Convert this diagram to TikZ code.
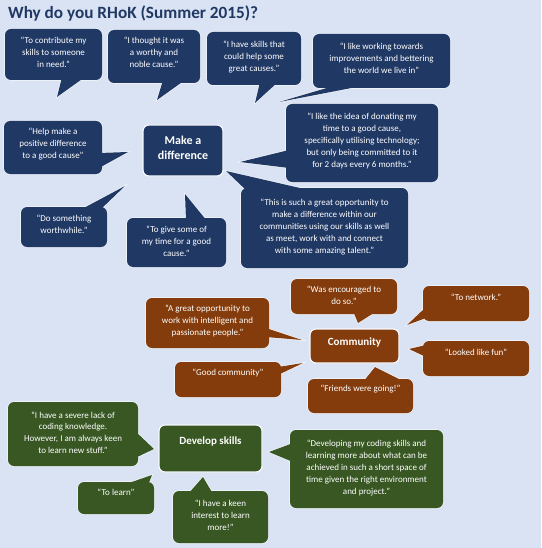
\documentclass[tikz,border=0pt]{standalone}
\usepackage{fontspec}
\setmainfont{Carlito}
\usetikzlibrary{calc}
\definecolor{bg}{HTML}{DAE3F3}
\definecolor{navy}{HTML}{203864}
\definecolor{rust}{HTML}{843C0C}
\definecolor{moss}{HTML}{385723}
\definecolor{edge}{HTML}{F6F8FC}
\begin{document}
\begin{tikzpicture}[x=1pt,y=-1pt,
  bub/.style={rectangle, rounded corners=6pt, draw=edge, line width=1.2pt, inner sep=0pt, outer sep=0pt, anchor=north west},
  tailw/.style={draw=edge, line width=1.2pt, line join=miter},
  txt/.style={text=white, align=center, inner sep=0pt, font=\fontsize{9}{11.8}\selectfont},
  hub/.style={text=white, align=center, inner sep=0pt, font=\fontsize{12}{15.5}\selectfont\bfseries},
  hubs/.style={text=white, align=center, inner sep=0pt, font=\fontsize{11}{13}\selectfont\bfseries}]
\useasboundingbox (0,0) rectangle (541,548);
\fill[bg] (0,0) rectangle (541,548);
\node[anchor=base west, inner sep=0pt, text=navy, font=\fontsize{17.2}{19}\selectfont\bfseries] (title) at (8,19) {Why do you RHoK (Summer 2015)?};

% ---------- boxes ----------
% Make a difference (navy)
\node[bub, fill=navy, minimum width=97pt, minimum height=51pt] (b1) at (5,29) {};
\node[bub, fill=navy, minimum width=92pt, minimum height=53pt] (b2) at (108,30) {};
\node[bub, fill=navy, minimum width=94pt, minimum height=53pt] (b3) at (207,32) {};
\node[bub, fill=navy, minimum width=137pt, minimum height=54pt] (b4) at (313,34) {};
\node[bub, fill=navy, minimum width=152pt, minimum height=78pt] (b5) at (286,104) {};
\node[bub, fill=navy, minimum width=167pt, minimum height=80pt] (b6) at (241,188) {};
\node[bub, fill=navy, minimum width=98pt, minimum height=53pt] (b7) at (4,121) {};
\node[bub, fill=navy, minimum width=86pt, minimum height=40pt] (b8) at (21,207) {};
\node[bub, fill=navy, minimum width=99pt, minimum height=49pt] (b9) at (127,218) {};
\node[bub, fill=navy, minimum width=80pt, minimum height=51pt] (md) at (143,125) {};
% Community (rust)
\node[bub, fill=rust, minimum width=89pt, minimum height=34pt] (cm) at (310,329) {};
\node[bub, fill=rust, minimum width=106pt, minimum height=35pt] (ca) at (291,279) {};
\node[bub, fill=rust, minimum width=106pt, minimum height=35pt] (cb) at (423,286) {};
\node[bub, fill=rust, minimum width=123pt, minimum height=50pt] (cc) at (146,298) {};
\node[bub, fill=rust, minimum width=106pt, minimum height=35pt] (cd) at (423,341) {};
\node[bub, fill=rust, minimum width=106pt, minimum height=35pt] (ce) at (175,362) {};
\node[bub, fill=rust, minimum width=105pt, minimum height=34pt] (cf) at (308,379) {};
% Develop skills (moss)
\node[bub, fill=moss, minimum width=103pt, minimum height=47pt] (ds) at (159,425) {};
\node[bub, fill=moss, minimum width=130pt, minimum height=64pt] (da) at (8,402) {};
\node[bub, fill=moss, minimum width=153pt, minimum height=78pt] (db) at (290,430) {};
\node[bub, fill=moss, minimum width=76pt, minimum height=32pt] (dc) at (78,482) {};
\node[bub, fill=moss, minimum width=95pt, minimum height=52pt] (dd) at (173,491) {};

% ---------- tail tips and bases ----------
\coordinate (t-b1) at (57,97);   \coordinate (l-b1) at ($(b1.north west)+(57,48)$);  \coordinate (r-b1) at ($(b1.north west)+(80,48)$);
\coordinate (t-b2) at (157,100); \coordinate (l-b2) at ($(b2.north west)+(55,50)$);  \coordinate (r-b2) at ($(b2.north west)+(77,50)$);
\coordinate (t-b3) at (255,103); \coordinate (l-b3) at ($(b3.north west)+(53,50)$);  \coordinate (r-b3) at ($(b3.north west)+(71,50)$);
\coordinate (t-b4) at (279,102); \coordinate (l-b4) at ($(b4.north west)+(24,51)$);  \coordinate (r-b4) at ($(b4.north west)+(54,51)$);
\coordinate (t-b5) at (240,162); \coordinate (l-b5) at ($(b5.north west)+(3,46)$);   \coordinate (r-b5) at ($(b5.north west)+(3,64)$);
\coordinate (t-b6) at (226,171); \coordinate (l-b6) at ($(b6.north west)+(6,3)$);    \coordinate (r-b6) at ($(b6.north west)+(72,3)$);
\coordinate (t-b7) at (128,152); \coordinate (l-b7) at ($(b7.north west)+(95,32)$);  \coordinate (r-b7) at ($(b7.north west)+(95,47)$);
\coordinate (t-b8) at (125,186); \coordinate (l-b8) at ($(b8.north west)+(59,3)$);   \coordinate (r-b8) at ($(b8.north west)+(79,3)$);
\coordinate (t-b9) at (185,194); \coordinate (l-b9) at ($(b9.north west)+(59,3)$);   \coordinate (r-b9) at ($(b9.north west)+(80,3)$);
\coordinate (t-ca) at (358,323); \coordinate (l-ca) at ($(ca.north west)+(62,32)$);  \coordinate (r-ca) at ($(ca.north west)+(86,32)$);
\coordinate (t-cb) at (407,325); \coordinate (l-cb) at ($(cb.north west)+(3,21)$);   \coordinate (r-cb) at ($(cb.north west)+(3,32)$);
\coordinate (t-cc) at (302,340); \coordinate (l-cc) at ($(cc.north west)+(120,30)$); \coordinate (r-cc) at ($(cc.north west)+(120,39)$);
\coordinate (t-cd) at (409,349); \coordinate (l-cd) at ($(cd.north west)+(3,4)$);    \coordinate (r-cd) at ($(cd.north west)+(3,16)$);
\coordinate (t-ce) at (303,363); \coordinate (l-ce) at ($(ce.north west)+(103,5)$);  \coordinate (r-ce) at ($(ce.north west)+(103,13)$);
\coordinate (t-cf) at (375,367); \coordinate (l-cf) at ($(cf.north west)+(55,3)$);   \coordinate (r-cf) at ($(cf.north west)+(97,3)$);
\coordinate (t-da) at (154,449); \coordinate (l-da) at ($(da.north west)+(127,29)$); \coordinate (r-da) at ($(da.north west)+(127,56)$);
\coordinate (t-db) at (269,452); \coordinate (l-db) at ($(db.north west)+(3,13)$);   \coordinate (r-db) at ($(db.north west)+(3,32)$);
\coordinate (t-dc) at (152,475); \coordinate (l-dc) at ($(dc.north west)+(45,3)$);   \coordinate (r-dc) at ($(dc.north west)+(70,3)$);
\coordinate (t-dd) at (203,477); \coordinate (l-dd) at ($(dd.north west)+(15,3)$);   \coordinate (r-dd) at ($(dd.north west)+(40,3)$);

% ---------- tails with halo ----------
\foreach \b/\c in {b1/navy,b2/navy,b3/navy,b4/navy,b5/navy,b6/navy,b7/navy,b8/navy,b9/navy,
                   ca/rust,cb/rust,cc/rust,cd/rust,ce/rust,cf/rust,
                   da/moss,db/moss,dc/moss,dd/moss}
  \filldraw[tailw, fill=\c] (t-\b) -- (l-\b) -- (r-\b) -- cycle;

% ---------- refill to merge tails into boxes ----------
\foreach \b/\c in {b1/navy,b2/navy,b3/navy,b4/navy,b5/navy,b6/navy,b7/navy,b8/navy,b9/navy,
                   ca/rust,cb/rust,cc/rust,cd/rust,ce/rust,cf/rust,
                   da/moss,db/moss,dc/moss,dd/moss}
{
  \fill[\c, rounded corners=6pt] (\b.north west) rectangle (\b.south east);
  \fill[\c] (t-\b) -- (l-\b) -- (r-\b) -- cycle;
}

% ---------- texts ----------
\node[txt] (q-b1) at (53.5,52) {“To contribute my\\skills to someone\\in need.”};
\node[txt] (q-b2) at (154,52.5) {“I thought it was\\a worthy and\\noble cause.”};
\node[txt] (q-b3) at (254,57) {“I have skills that\\could help some\\great causes.”};
\node[txt] (q-b4) at (381.5,58) {“I like working towards\\improvements and bettering\\the world we live in”};
\node[txt] (q-b5) at (362,141) {“I like the idea of donating my\\time to a good cause,\\specifically utilising technology;\\but only being committed to it\\for 2 days every 6 months.”};
\node[txt] (q-b6) at (324.5,227) {“This is such a great opportunity to\\make a difference within our\\communities using our skills as well\\as meet, work with and connect\\with some amazing talent.”};
\node[txt] (q-b7) at (53,144) {“Help make a\\positive difference\\to a good cause”};
\node[txt] (q-b8) at (64,224) {“Do something\\worthwhile.”};
\node[txt] (q-b9) at (176.5,241) {“To give some of\\my time for a good\\cause.”};
\node[hub] (q-md) at (183,148) {Make a\\difference};

\node[hubs] (q-cm) at (354.5,343) {Community};
\node[txt] (q-ca) at (344,295.5) {“Was encouraged to\\do so.”};
\node[txt] (q-cb) at (476,297) {“To network.”};
\node[txt] (q-cc) at (207.5,321) {“A great opportunity to\\work with intelligent and\\passionate people.”};
\node[txt] (q-cd) at (476,352) {“Looked like fun”};
\node[txt] (q-ce) at (228,373) {“Good community”};
\node[txt] (q-cf) at (360.5,389) {“Friends were going!”};

\node[hubs] (q-ds) at (210.5,442) {Develop skills};
\node[txt] (q-da) at (73,432.5) {“I have a severe lack of\\coding knowledge.\\However, I am always keen\\to learn new stuff.”};
\node[txt] (q-db) at (366.5,468) {“Developing my coding skills and\\learning more about what can be\\achieved in such a short space of\\time given the right environment\\and project.”};
\node[txt] (q-dc) at (116,492) {“To learn”};
\node[txt] (q-dd) at (220.5,515) {“I have a keen\\interest to learn\\more!”};
\end{tikzpicture}
\end{document}
